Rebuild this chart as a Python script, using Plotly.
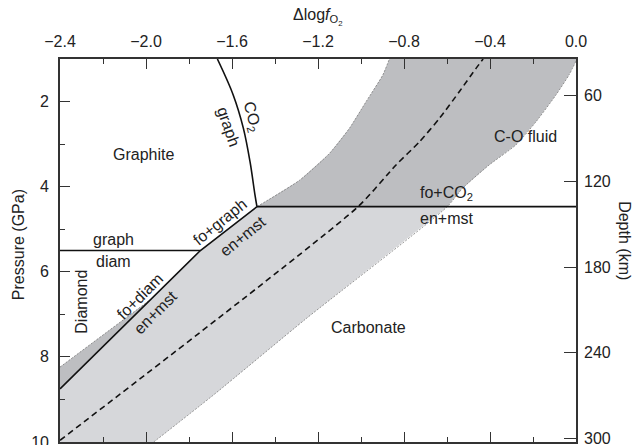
import numpy as np
import plotly.graph_objects as go

# ---------------- data ----------------
# solid EMOG / EMOD boundary (fo+graph|diam = en+mst)
solid_x = [-2.4, -1.747, -1.484]
solid_P = [8.75, 5.50, 4.47]
# graphite / diamond boundary
gd_x = [-2.4, -1.747]
gd_P = [5.50, 5.50]
# fo+CO2 = en+mst boundary
co2_x = [-1.484, 0.0]
co2_P = [4.47, 4.47]
# CO2 / graph boundary (curve)
curve_x = [-1.668, -1.594, -1.547, -1.516, -1.493, -1.484]
curve_P = [1.0, 1.85, 2.63, 3.42, 4.20, 4.47]
# upper (left) band boundary: diamond part and fluid part
Ulow_x = [-2.4, -1.973]
Ulow_P = [8.24, 6.63]
Uup_x = [-1.484, -1.286, -1.147, -1.054, -0.976, -0.899, -0.868]
Uup_P = [4.47, 3.85, 3.22, 2.63, 2.00, 1.38, 1.00]
# lower (right) band boundary
L_x = [-1.964, -1.680, -1.255, -0.599, -0.528, -0.404, -0.280, -0.187, -0.094, -0.032, 0.0]
L_P = [10.0, 8.87, 7.10, 4.47, 4.04, 3.49, 3.02, 2.48, 1.85, 1.37, 1.05]
# central dashed line
C_x = [-2.4, -1.015, -0.837, -0.729, -0.636, -0.543, -0.465, -0.432]
C_P = [9.96, 4.475, 3.49, 2.95, 2.40, 1.77, 1.22, 1.00]

x_ticks = [-2.4, -2.0, -1.6, -1.2, -0.8, -0.4, 0.0]
p_ticks = [2, 4, 6, 8, 10]
depth_ticks = [60, 120, 180, 240, 300]

labels = [
    ("Graphite", -2.013, 3.25, 0),
    ("CO<sub>2</sub>", -1.508, 2.35, 75),
    ("graph", -1.617, 2.59, 71),
    ("graph", -2.152, 5.25, 0),
    ("diam", -2.152, 5.76, 0),
    ("Diamond", -2.299, 6.71, -90),
    ("fo+graph", -1.654, 4.82, -39),
    ("en+mst", -1.552, 5.16, -39),
    ("fo+diam", -2.030, 6.57, -45),
    ("en+mst", -1.956, 6.96, -45),
    ("C-O fluid", -0.237, 2.82, 0),
    ("fo+CO<sub>2</sub>", -0.601, 4.16, 0),
    ("en+mst", -0.601, 4.74, 0),
    ("Carbonate", -0.966, 7.31, 0),
]

DARK = "#bdbec1"
LIGHT = "#d6d7da"
INK = "#222222"
FONT = "Liberation Sans, Arial, Helvetica, sans-serif"
FS = 16

fig = go.Figure()

# dark band in the C-O fluid field
L_up_idx = [i for i, p in enumerate(L_P) if p <= 4.47]
dark_x = Uup_x + [0.0] + [L_x[i] for i in reversed(L_up_idx)]
dark_P = Uup_P + [1.0] + [L_P[i] for i in reversed(L_up_idx)]
fig.add_trace(go.Scatter(x=dark_x, y=dark_P, fill="toself", fillcolor=DARK,
                         mode="none", hoverinfo="skip", showlegend=False))

# dark sliver in the diamond field
s_end = float(np.interp(Ulow_x[-1], solid_x, solid_P))
sl_x = Ulow_x + [Ulow_x[-1], solid_x[0]]
sl_P = Ulow_P + [s_end, solid_P[0]]
fig.add_trace(go.Scatter(x=sl_x, y=sl_P, fill="toself", fillcolor=DARK,
                         mode="none", hoverinfo="skip", showlegend=False))

# light band in the carbonate field
L_lo_idx = [i for i, p in enumerate(L_P) if p >= 4.47]
light_x = solid_x + [L_x[i] for i in reversed(L_lo_idx)] + [-2.4]
light_P = solid_P + [L_P[i] for i in reversed(L_lo_idx)] + [10.0]
fig.add_trace(go.Scatter(x=light_x, y=light_P, fill="toself", fillcolor=LIGHT,
                         mode="none", hoverinfo="skip", showlegend=False))

thin = dict(color="#7a7a7a", width=0.8, dash="2px,1.5px")
for xs, ps in [(Ulow_x, Ulow_P), (Uup_x, Uup_P), (L_x, L_P)]:
    fig.add_trace(go.Scatter(x=xs, y=ps, mode="lines", line=dict(shape="spline", smoothing=0.6, **thin),
                             hoverinfo="skip", showlegend=False))

fig.add_trace(go.Scatter(x=C_x, y=C_P, mode="lines",
                         line=dict(color="#111", width=1.6, dash="6px,4px", shape="spline", smoothing=0.6),
                         hoverinfo="skip", showlegend=False))

solid = dict(color="#111", width=1.6)
for xs, ps in [(solid_x, solid_P), (gd_x, gd_P), (co2_x, co2_P)]:
    fig.add_trace(go.Scatter(x=xs, y=ps, mode="lines", line=solid, hoverinfo="skip", showlegend=False))
fig.add_trace(go.Scatter(x=curve_x, y=curve_P, mode="lines",
                         line=dict(shape="spline", **solid), hoverinfo="skip", showlegend=False))

# invisible trace for the depth axis
fig.add_trace(go.Scatter(x=[-2.4], y=[100], yaxis="y2", mode="markers",
                         marker=dict(opacity=0), hoverinfo="skip", showlegend=False))

for txt, x, p, ang in labels:
    fig.add_annotation(x=x, y=p, xref="x", yref="y", text=txt, showarrow=False,
                       textangle=ang, font=dict(family=FONT, size=FS, color=INK))

fig.add_annotation(x=0.5, y=1, xref="paper", yref="paper", xanchor="center", yanchor="middle",
                   yshift=42, text="Δlog<i>f</i><sub>O<sub>2</sub></sub>", showarrow=False,
                   font=dict(family=FONT, size=FS, color=INK))
fig.add_annotation(x=0, y=0.514, xref="paper", yref="paper", xanchor="center", yanchor="middle",
                   xshift=-42, text="Pressure (GPa)", textangle=-90, showarrow=False,
                   font=dict(family=FONT, size=FS, color=INK))
fig.add_annotation(x=1, y=0.527, xref="paper", yref="paper", xanchor="center", yanchor="middle",
                   xshift=49, text="Depth (km)", textangle=90, showarrow=False,
                   font=dict(family=FONT, size=FS, color=INK))

axcol = "#333333"
fig.update_layout(
    width=636, height=445,
    margin=dict(l=60, r=60, t=59, b=3, autoexpand=False),
    paper_bgcolor="white", plot_bgcolor="white",
    font=dict(family=FONT, size=FS, color=INK),
    xaxis=dict(range=[-2.4, 0.0], side="top", tickvals=x_ticks, tickformat=".1f",
               ticks="inside", ticklen=10, tickwidth=1.3, tickcolor=axcol,
               minor=dict(ticks="inside", dtick=0.2, tick0=0, ticklen=5, tickwidth=1.3, tickcolor=axcol),
               showline=True, linecolor=axcol, linewidth=1.6, mirror="ticks",
               showgrid=False, zeroline=False, ticklabelstandoff=4, automargin=False,
               ticklabeloverflow="allow",
               tickfont=dict(family=FONT, size=FS, color=INK)),
    yaxis=dict(range=[10, 1], tickvals=p_ticks, ticks="inside", ticklen=10, tickwidth=1.3,
               tickcolor=axcol,
               minor=dict(ticks="inside", dtick=1, tick0=0, ticklen=5, tickwidth=1.3, tickcolor=axcol),
               showline=True, linecolor=axcol, linewidth=1.6, mirror=False,
               showgrid=False, zeroline=False, ticklabelstandoff=6, automargin=False,
               ticklabeloverflow="allow",
               tickfont=dict(family=FONT, size=FS, color=INK)),
    yaxis2=dict(range=[302.6, 34.2], overlaying="y", side="right", anchor="x",
                tickvals=depth_ticks, ticks="inside", ticklen=12, tickwidth=1.3, tickcolor=axcol,
                showline=True, linecolor=axcol, linewidth=1.6, automargin=False,
                showgrid=False, zeroline=False, ticklabelstandoff=3,
                ticklabeloverflow="allow",
                tickfont=dict(family=FONT, size=FS, color=INK)),
)

fig.write_html("out.html", config={"displayModeBar": False},
               post_script="document.body.style.margin='0';document.body.style.padding='0';")
